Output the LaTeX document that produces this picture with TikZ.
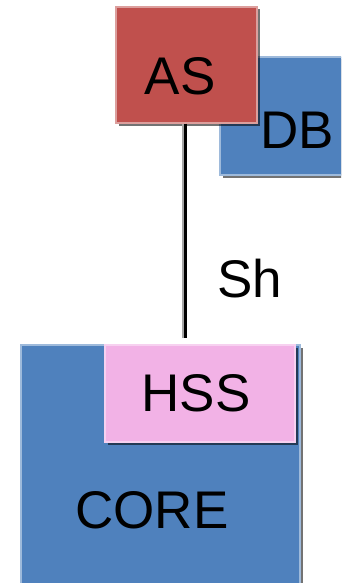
\documentclass[tikz,border=0pt]{standalone}
\usepackage{fontspec}
\setmainfont{Liberation Sans}
\usetikzlibrary{positioning,calc,shadows}
\definecolor{ascolor}{RGB}{192, 80, 77}
\definecolor{corecolor}{RGB}{79, 129, 189}
\definecolor{hsscolor}{RGB}{242, 178, 230}
\tikzset{
  box/.style={rectangle, inner sep=0pt, line width=1.2pt,
    drop shadow={shadow xshift=2.5pt, shadow yshift=-2.5pt, fill=black, opacity=0.55}},
  lbl/.style={anchor=base, inner sep=0pt, font=\fontsize{53}{60}\selectfont}
}
\begin{document}
\begin{tikzpicture}[x=1pt, y=-1pt]
    \useasboundingbox (0,0) rectangle (341,583);
    \begin{scope}
    \clip (0,0) rectangle (341,583);

    % Database behind the application server
    \node[box, fill=corecolor, draw=corecolor!55!white, minimum width=125pt, minimum height=118pt] (db) at (282.5,116) {};
    \node[lbl] (dbtxt) at (297,148) {DB};

    % Application server
    \node[box, fill=ascolor, draw=ascolor!55!white, minimum width=141pt, minimum height=116pt] (as) at (186.5,65) {};
    \node[lbl] (astxt) at (180,95) {AS};

    % Core network with the HSS in its corner
    \node[box, fill=corecolor, draw=corecolor!55!white, minimum width=279pt, minimum height=250pt] (core) at (160.5,470) {};
    \node[box, fill=hsscolor, draw=hsscolor!60!white, minimum width=190pt, minimum height=97pt] (hss) at (200,393.5) {};
    \node[lbl] (hsstxt) at (196,411) {HSS};
    \node[lbl] (coretxt) at (152,528) {CORE};

    % Sh interface, grey edge on its left
    \draw[gray!70, line width=3pt] ($(as.south)+(-3.5,0)$) -- ($(as.south |- hss.north)+(-3.5,-6)$);
    \draw[black, line width=2.4pt] ($(as.south)+(-1,0)$) -- ($(as.south |- hss.north)+(-1,-6)$);
    \node[lbl] (sh) at (249.5,297) {Sh};
    \end{scope}
\end{tikzpicture}
\end{document}
